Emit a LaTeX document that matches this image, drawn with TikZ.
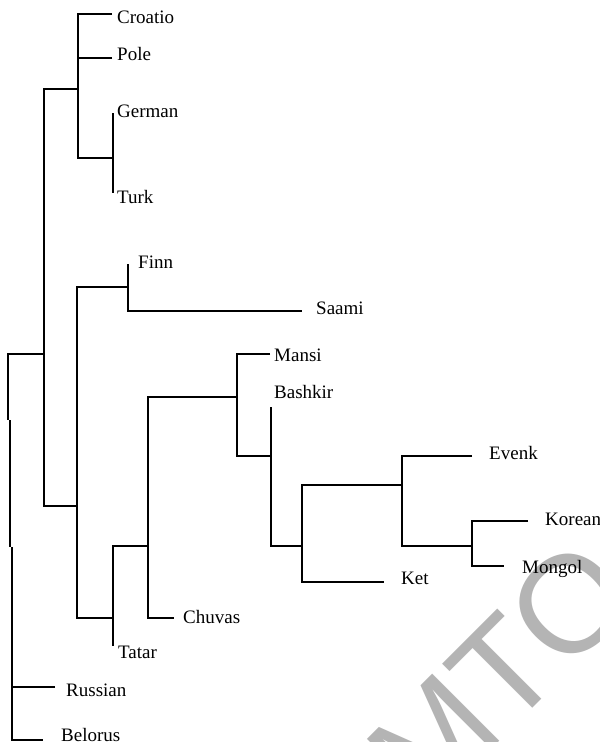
\documentclass[tikz,border=0pt]{standalone}
\usepackage{fontspec}
\setmainfont{Liberation Serif}
\newfontfamily\marksans{Liberation Sans}
\definecolor{markgray}{RGB}{180,180,180}
\begin{document}
\begin{tikzpicture}[x=1pt,y=-1pt,
  branch/.style={line width=1.4pt, black},
  taxon/.style={anchor=base west, inner sep=0pt, font=\fontsize{19}{19}\selectfont},
  stamp/.style={rotate=45, anchor=base west, inner sep=0pt, text=markgray,
                font=\marksans\fontsize{138}{138}\selectfont}]
\useasboundingbox (0,0) rectangle (600,742);
\clip (0,0) rectangle (600,742);
\fill[white] (0,0) rectangle (600,742);

% background stamp
\node[stamp] (stamp) at (426,815) {MTO};

% taxon labels
\node[taxon] (croatio) at (117,23)  {Croatio};
\node[taxon] (pole)    at (117,60)  {Pole};
\node[taxon] (german)  at (117,117) {German};
\node[taxon] (turk)    at (117,203) {Turk};
\node[taxon] (finn)    at (138,268) {Finn};
\node[taxon] (saami)   at (316,314) {Saami};
\node[taxon] (mansi)   at (274,361) {Mansi};
\node[taxon] (bashkir) at (274,398) {Bashkir};
\node[taxon] (evenk)   at (489,459) {Evenk};
\node[taxon] (korean)  at (545,525) {Korean};
\node[taxon] (mongol)  at (522,573) {Mongol};
\node[taxon] (ket)     at (401,584) {Ket};
\node[taxon] (chuvas)  at (183,623) {Chuvas};
\node[taxon] (tatar)   at (118,658) {Tatar};
\node[taxon] (russian) at (66,696)  {Russian};
\node[taxon] (belorus) at (61,741)  {Belorus};

% branch tips
\coordinate (tCroatio) at (112,14);
\coordinate (tPole)    at (112,58);
\coordinate (tGerman)  at (113,113);
\coordinate (tTurk)    at (113,193);
\coordinate (tFinn)    at (128,264);
\coordinate (tSaami)   at (302,311);
\coordinate (tMansi)   at (270,354);
\coordinate (tBashkir) at (271,407);
\coordinate (tEvenk)   at (472,456);
\coordinate (tKorean)  at (528,521);
\coordinate (tMongol)  at (504,566);
\coordinate (tKet)     at (384,582);
\coordinate (tChuvas)  at (174,618);
\coordinate (tTatar)   at (113,646);
\coordinate (tRussian) at (55,687);
\coordinate (tBelorus) at (43,740);

% inner nodes (point where each joins its parent)
\coordinate (nGT)   at (113,158);
\coordinate (nA)    at (78,89);
\coordinate (nFS)   at (128,287);
\coordinate (nKM)   at (472,546);
\coordinate (nEKM)  at (402,485);
\coordinate (nKet)  at (302,546);
\coordinate (nBash) at (271,456);
\coordinate (nMan)  at (237,397);
\coordinate (nChuv) at (148,546);
\coordinate (nTat)  at (113,618);
\coordinate (nB)    at (77,506);
\coordinate (nAB)   at (44,354);
\coordinate (r1) at (8,420);
\coordinate (r2) at (10,420);
\coordinate (r3) at (10,547);
\coordinate (r4) at (12,547);

% branches
\draw[branch] (tGerman) -| (nGT) |- (tTurk);
\draw[branch] (tCroatio) -| (nA) |- (nGT);
\draw[branch] (tPole) -- ([xshift=-1.5pt]tPole -| nA);
\draw[branch] (tFinn) -| (nFS) |- (tSaami);
\draw[branch] (tKorean) -| (nKM) |- (tMongol);
\draw[branch] (tEvenk) -| (nEKM) |- (nKM);
\draw[branch] (nEKM) -| (nKet) |- (tKet);
\draw[branch] (tBashkir) -| (nBash) |- (nKet);
\draw[branch] (tMansi) -| (nMan) |- (nBash);
\draw[branch] (nMan) -| (nChuv) |- (tChuvas);
\draw[branch] (nChuv) -| (nTat) |- (tTatar);
\draw[branch] (nFS) -| (nB) |- (nTat);
\draw[branch] (nA) -| (nAB) |- (nB);
\draw[branch] (nAB) -| (r1);
\draw[branch] (r2) -- (r3);
\draw[branch] (r4) |- (tBelorus);
\draw[branch] (tRussian) -- (tRussian -| r4);
\end{tikzpicture}
\end{document}
